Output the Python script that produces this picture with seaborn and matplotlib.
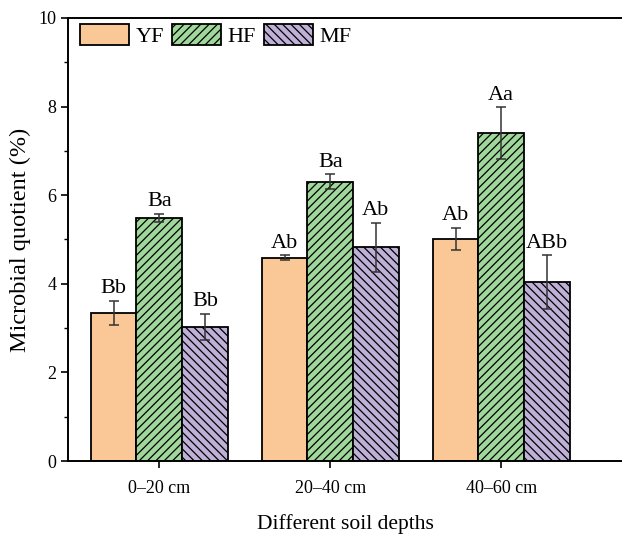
import pandas as pd
import seaborn as sns
import matplotlib.pyplot as plt
from matplotlib.ticker import MultipleLocator

depths = ["0–20 cm", "20–40 cm", "40–60 cm"]
forests = ["YF", "HF", "MF"]

yf_mean = [3.35, 4.59, 5.02]
yf_err = [0.27, 0.05, 0.25]
hf_mean = [5.48, 6.30, 7.40]
hf_err = [0.09, 0.17, 0.58]
mf_mean = [3.03, 4.82, 4.04]
mf_err = [0.29, 0.56, 0.60]

yf_sig = ["Bb", "Ab", "Ab"]
hf_sig = ["Ba", "Ba", "Aa"]
mf_sig = ["Bb", "Ab", "ABb"]

colors = ["#FAC896", "#A0D79B", "#BEB0D7"]
hatches = ["", "////", "\\\\\\\\"]

means = {"YF": yf_mean, "HF": hf_mean, "MF": mf_mean}
errs = {"YF": yf_err, "HF": hf_err, "MF": mf_err}
sigs = {"YF": yf_sig, "HF": hf_sig, "MF": mf_sig}

rows = []
for f in forests:
    for d, m in zip(depths, means[f]):
        rows.append({"depth": d, "forest": f, "value": m})
df = pd.DataFrame(rows)

sns.set_style("ticks")
plt.rcParams["font.family"] = ["Liberation Serif", "DejaVu Serif"]
plt.rcParams["hatch.linewidth"] = 0.9
plt.rcParams["hatch.color"] = "black"
for k in ["text.color", "axes.labelcolor", "xtick.color", "ytick.color"]:
    plt.rcParams[k] = "black"

fig = plt.figure(figsize=(6.22, 5.34), dpi=100)
ax = fig.add_axes([0.1093, 0.1367, 0.8907, 0.8296])

sns.barplot(data=df, x="depth", y="value", hue="forest", hue_order=forests,
            palette=colors, saturation=1, width=0.8, errorbar=None, legend=False,
            edgecolor="black", linewidth=1.3, ax=ax)

# hatches, error bars and significance letters per bar
for cont, f, h in zip(ax.containers, forests, hatches):
    for bar, e, s in zip(cont, errs[f], sigs[f]):
        bar.set_hatch(h)
        xc = bar.get_x() + bar.get_width() / 2
        top = bar.get_height()
        ax.errorbar(xc, top, yerr=e, color="#333333", elinewidth=1.1,
                    capsize=3.6, capthick=1.1, zorder=5)
        ax.annotate(s, (xc, top + e), xytext=(0, 2), textcoords="offset points",
                    ha="center", va="bottom", fontsize=16, color="black")

ax.legend(handles=[c[0] for c in ax.containers], labels=forests,
          loc="upper left", bbox_to_anchor=(0.006, 1.006), ncol=3, frameon=False,
          fontsize=16, handlelength=2.2, handleheight=1.05,
          handletextpad=0.3, columnspacing=0.35, borderaxespad=0)

ax.set_xlim(-0.534, 2.706)
ax.set_ylim(0, 10)
ax.yaxis.set_major_locator(MultipleLocator(2))
ax.yaxis.set_minor_locator(MultipleLocator(1))
ax.tick_params(axis="both", which="major", direction="out", length=5,
               width=1.2, labelsize=13, color="black", labelcolor="black")
ax.tick_params(axis="x", which="major", pad=9)
ax.tick_params(axis="y", which="minor", direction="out", length=3, width=1.0)

ax.set_xlabel("Different soil depths", fontsize=15.5, labelpad=12)
ax.set_ylabel("Microbial quotient (%)", fontsize=17.5, labelpad=5)

for side in ["left", "bottom", "top"]:
    ax.spines[side].set_linewidth(1.4)
    ax.spines[side].set_color("black")
ax.spines["right"].set_visible(False)

fig.savefig("out.png", dpi=100)
